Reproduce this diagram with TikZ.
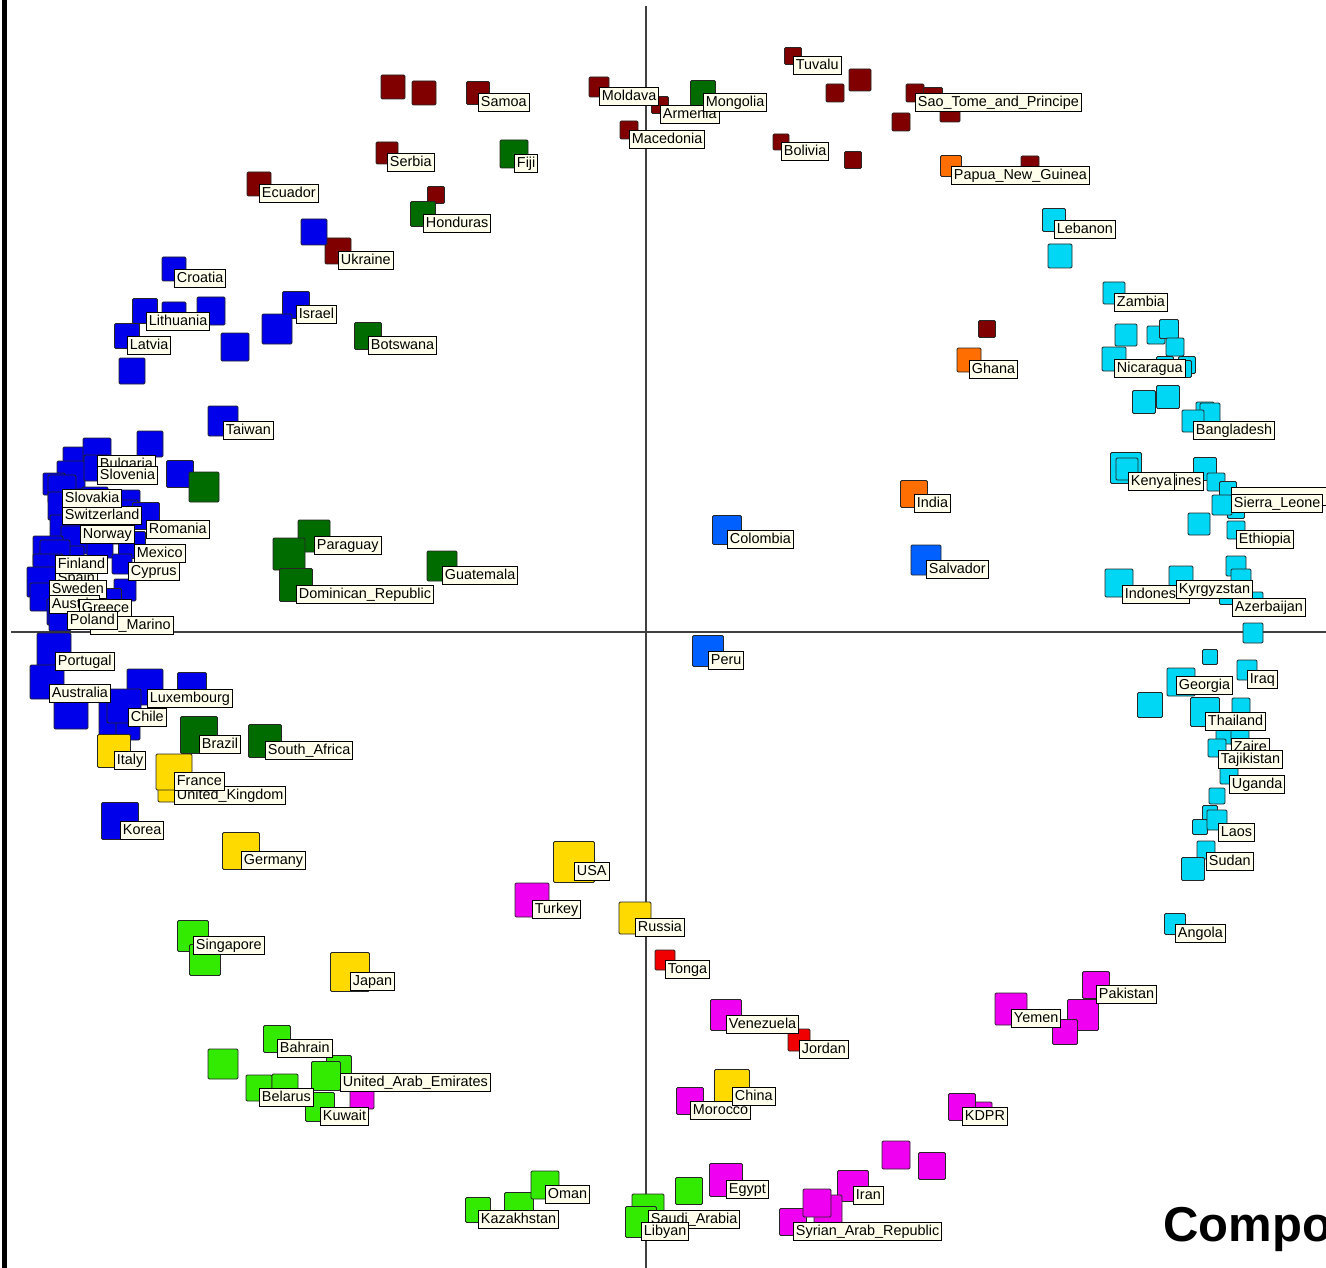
\documentclass[tikz,border=0pt]{standalone}
\usepackage{fontspec}
\setmainfont{Liberation Sans}
\usetikzlibrary{positioning}

\definecolor{cdred}{RGB}{128,0,0}
\definecolor{cdgreen}{RGB}{0,108,0}
\definecolor{cblue}{RGB}{0,0,235}
\definecolor{clblue}{RGB}{0,95,255}
\definecolor{ccyan}{RGB}{0,215,245}
\definecolor{corange}{RGB}{255,110,0}
\definecolor{cyellow}{RGB}{255,218,0}
\definecolor{clime}{RGB}{50,235,0}
\definecolor{cmagenta}{RGB}{240,0,240}
\definecolor{cred}{RGB}{240,0,0}
\definecolor{lblfill}{RGB}{255,255,236}

\begin{document}
\begin{tikzpicture}[x=1pt, y=-1pt,
    sq/.style={draw=black!85, line width=0.9pt, rounded corners=1.2pt, minimum size=#1, inner sep=0pt},
    lbl/.style={draw=black, line width=0.9pt, fill=lblfill, anchor=north west, inner xsep=2.5pt, inner ysep=1.6pt, text height=11pt, text depth=3.5pt, font=\fontsize{14.4}{16}\selectfont},
    axisline/.style={draw=black!75, line width=1.2pt}]

    \useasboundingbox (0,0) rectangle (1326,1268);
    \fill[white] (0,0) rectangle (1326,1268);
    \fill[black] (2,0) rectangle (7,1268);

    % Axes
    \coordinate (ytop) at (646,6);
    \coordinate (ybot) at (646,1268);
    \coordinate (xlft) at (11,632);
    \coordinate (xrgt) at (1326,632);
    \draw[axisline] (ytop) -- (ybot);
    \draw[axisline] (xlft) -- (xrgt);

    % Dark red points
    \node[sq=24, fill=cdred] (dr1) at (393,87) {};
    \node[sq=24, fill=cdred] (dr2) at (424,93) {};
    \node[sq=22, fill=cdred] (serbia) at (387,153) {};
    \node[sq=24, fill=cdred] (ecuador) at (259,184) {};
    \node[sq=17, fill=cdred] (dr3) at (436,195) {};
    \node[sq=26, fill=cdred] (ukraine) at (338,251) {};
    \node[sq=23, fill=cdred] (samoa) at (478,93) {};
    \node[sq=20, fill=cdred] (moldava) at (599,87) {};
    \node[sq=17, fill=cdred] (armenia) at (660,105) {};
    \node[sq=18, fill=cdred] (macedonia) at (629,130) {};
    \node[sq=17, fill=cdred] (tuvalu) at (793,56) {};
    \node[sq=22, fill=cdred] (dr4) at (860,80) {};
    \node[sq=18, fill=cdred] (dr5) at (835,93) {};
    \node[sq=16, fill=cdred] (bolivia) at (781,142) {};
    \node[sq=17, fill=cdred] (dr6) at (853,160) {};
    \node[sq=18, fill=cdred] (saotome) at (915,93) {};
    \node[sq=19, fill=cdred] (dr7) at (933,97) {};
    \node[sq=20, fill=cdred] (dr8) at (950,112) {};
    \node[sq=18, fill=cdred] (dr9) at (901,122) {};
    \node[sq=18, fill=cdred] (dr10) at (1030,165) {};
    \node[sq=17, fill=cdred] (dr11) at (987,329) {};

    % Dark green points
    \node[sq=25, fill=cdgreen] (honduras) at (423,214) {};
    \node[sq=28, fill=cdgreen] (fiji) at (514,154) {};
    \node[sq=25, fill=cdgreen] (mongolia) at (703,93) {};
    \node[sq=27, fill=cdgreen] (botswana) at (368,336) {};
    \node[sq=32, fill=cdgreen] (paraguay) at (314,536) {};
    \node[sq=32, fill=cdgreen] (gr1) at (289,554) {};
    \node[sq=33, fill=cdgreen] (dominican) at (296,585) {};
    \node[sq=30, fill=cdgreen] (guatemala) at (442,566) {};

    % Blue points, upper left
    \node[sq=26, fill=cblue] (bl1) at (314,232) {};
    \node[sq=24, fill=cblue] (croatia) at (174,269) {};
    \node[sq=24, fill=cblue] (bl2) at (174,314) {};
    \node[sq=28, fill=cblue] (bl3) at (211,311) {};
    \node[sq=25, fill=cblue] (lithuania) at (145,311) {};
    \node[sq=25, fill=cblue] (latvia) at (127,336) {};
    \node[sq=26, fill=cblue] (bl4) at (132,371) {};
    \node[sq=28, fill=cblue] (bl5) at (235,347) {};
    \node[sq=27, fill=cblue] (israel) at (296,305) {};
    \node[sq=30, fill=cblue] (bl6) at (277,329) {};
    \node[sq=30, fill=cblue] (taiwan) at (223,421) {};

    % Blue points, left cluster
    \node[sq=26, fill=cblue] (bl7) at (150,444) {};
    \node[sq=28, fill=cblue] (bl8) at (77,461) {};
    \node[sq=28, fill=cblue] (bulgaria) at (97,452) {};
    \node[sq=28, fill=cblue] (bl9) at (71,475) {};
    \node[sq=26, fill=cblue] (slovenia) at (97,468) {};
    \node[sq=27, fill=cblue] (bl10) at (180,474) {};
    \node[sq=30, fill=cdgreen] (gr2) at (204,487) {};
    \node[sq=22, fill=cblue] (bl11) at (54,484) {};
    \node[sq=26, fill=cblue] (bl12) at (95,500) {};
    \node[sq=20, fill=cblue] (bl13) at (130,500) {};
    \node[sq=28, fill=cblue] (slovakia) at (62,489) {};
    \node[sq=28, fill=cblue] (switzerland) at (62,506) {};
    \node[sq=26, fill=cblue] (bl14) at (125,513) {};
    \node[sq=27, fill=cblue] (romania) at (146,516) {};
    \node[sq=30, fill=cblue] (bl15) at (65,530) {};
    \node[sq=28, fill=cblue] (norway) at (80,525) {};
    \node[sq=24, fill=cblue] (bl16) at (113,532) {};
    \node[sq=28, fill=cblue] (bl17) at (75,540) {};
    \node[sq=26, fill=cblue] (bl18) at (100,545) {};
    \node[sq=27, fill=cblue] (mexico) at (132,545) {};
    \node[sq=30, fill=cblue] (bl19) at (48,551) {};
    \node[sq=20, fill=cblue] (cyprus) at (122,564) {};
    \node[sq=28, fill=cblue] (bl20) at (70,560) {};
    \node[sq=30, fill=cblue] (finland) at (55,555) {};
    \node[sq=30, fill=cblue] (spain) at (48,569) {};
    \node[sq=30, fill=cblue] (sweden) at (42,582) {};
    \node[sq=22, fill=cblue] (bl21) at (125,590) {};
    \node[sq=24, fill=cblue] (bl22) at (80,590) {};
    \node[sq=28, fill=cblue] (austria) at (44,597) {};
    \node[sq=23, fill=cblue] (greece) at (110,600) {};
    \node[sq=22, fill=cblue] (bl23) at (85,605) {};
    \node[sq=26, fill=cblue] (poland) at (60,612) {};
    \node[sq=24, fill=cblue] (sanmarino) at (90,616) {};
    \node[sq=22, fill=cblue] (bl24) at (60,620) {};

    % Blue points, lower left
    \node[sq=34, fill=cblue] (portugal) at (54,650) {};
    \node[sq=34, fill=cblue] (australia) at (47,682) {};
    \node[sq=34, fill=cblue] (bl25) at (71,712) {};
    \node[sq=29, fill=cblue] (bl26) at (192,687) {};
    \node[sq=36, fill=cblue] (luxembourg) at (145,687) {};
    \node[sq=36, fill=cblue] (bl27) at (117,718) {};
    \node[sq=24, fill=cblue] (bl28) at (128,728) {};
    \node[sq=34, fill=cblue] (chile) at (124,706) {};
    \node[sq=37, fill=cblue] (korea) at (120,821) {};

    % Green and yellow points, lower left
    \node[sq=37, fill=cdgreen] (brazil) at (199,735) {};
    \node[sq=33, fill=cdgreen] (southafrica) at (265,741) {};
    \node[sq=33, fill=cyellow] (italy) at (114,751) {};
    \node[sq=32, fill=cyellow] (uk) at (174,786) {};
    \node[sq=36, fill=cyellow] (france) at (174,772) {};
    \node[sq=37, fill=cyellow] (germany) at (241,851) {};
    \node[sq=39, fill=cyellow] (japan) at (350,972) {};
    \node[sq=41, fill=cyellow] (usa) at (574,862) {};
    \node[sq=32, fill=cyellow] (russia) at (635,918) {};

    % Lime points
    \node[sq=31, fill=clime] (singapore) at (193,936) {};
    \node[sq=31, fill=clime] (lm1) at (205,960) {};
    \node[sq=27, fill=clime] (bahrain) at (277,1039) {};
    \node[sq=30, fill=clime] (lm2) at (223,1064) {};
    \node[sq=25, fill=clime] (lm3) at (339,1068) {};
    \node[sq=24, fill=cmagenta] (mg1) at (362,1097) {};
    \node[sq=26, fill=clime] (belarus) at (259,1088) {};
    \node[sq=26, fill=clime] (lm4) at (285,1087) {};
    \node[sq=29, fill=clime] (kuwait) at (320,1107) {};
    \node[sq=29, fill=clime] (uae) at (326,1076) {};
    \node[sq=25, fill=clime] (kazakhstan) at (478,1210) {};
    \node[sq=29, fill=clime] (lm5) at (519,1207) {};
    \node[sq=28, fill=clime] (oman) at (545,1185) {};
    \node[sq=32, fill=clime] (saudi) at (648,1210) {};
    \node[sq=31, fill=clime] (libyan) at (641,1222) {};
    \node[sq=27, fill=clime] (lm6) at (689,1191) {};

    % Magenta and red points
    \node[sq=34, fill=cmagenta] (turkey) at (532,900) {};
    \node[sq=20, fill=cred] (tonga) at (665,960) {};
    \node[sq=31, fill=cmagenta] (venezuela) at (726,1015) {};
    \node[sq=22, fill=cred] (jordan) at (799,1040) {};
    \node[sq=27, fill=cmagenta] (morocco) at (690,1101) {};
    \node[sq=35, fill=cyellow] (china) at (732,1087) {};
    \node[sq=33, fill=cmagenta] (egypt) at (726,1180) {};
    \node[sq=31, fill=cmagenta] (iran) at (853,1186) {};
    \node[sq=28, fill=cmagenta] (mg2) at (828,1209) {};
    \node[sq=27, fill=cmagenta] (syrian) at (793,1222) {};
    \node[sq=28, fill=cmagenta] (mg3) at (817,1203) {};
    \node[sq=28, fill=cmagenta] (mg4) at (896,1155) {};
    \node[sq=27, fill=cmagenta] (mg5) at (932,1166) {};
    \node[sq=18, fill=cmagenta] (mg6) at (983,1111) {};
    \node[sq=27, fill=cmagenta] (kdpr) at (962,1107) {};
    \node[sq=32, fill=cmagenta] (yemen) at (1011,1009) {};
    \node[sq=27, fill=cmagenta] (pakistan) at (1096,985) {};
    \node[sq=31, fill=cmagenta] (mg7) at (1083,1015) {};
    \node[sq=25, fill=cmagenta] (mg8) at (1065,1032) {};

    % Light blue and orange points
    \node[sq=29, fill=clblue] (colombia) at (727,530) {};
    \node[sq=31, fill=clblue] (peru) at (708,651) {};
    \node[sq=30, fill=clblue] (salvador) at (926,560) {};
    \node[sq=21, fill=corange] (papua) at (951,166) {};
    \node[sq=24, fill=corange] (ghana) at (969,360) {};
    \node[sq=27, fill=corange] (india) at (914,494) {};

    % Cyan points
    \node[sq=23, fill=ccyan] (lebanon) at (1054,220) {};
    \node[sq=24, fill=ccyan] (cy1) at (1060,256) {};
    \node[sq=22, fill=ccyan] (zambia) at (1114,293) {};
    \node[sq=22, fill=ccyan] (cy2) at (1126,335) {};
    \node[sq=18, fill=ccyan] (cy3) at (1156,335) {};
    \node[sq=19, fill=ccyan] (cy4) at (1169,329) {};
    \node[sq=18, fill=ccyan] (cy5) at (1175,347) {};
    \node[sq=17, fill=ccyan] (cy6) at (1165,365) {};
    \node[sq=17, fill=ccyan] (cy7) at (1187,365) {};
    \node[sq=17, fill=ccyan] (cy8) at (1183,369) {};
    \node[sq=24, fill=ccyan] (nicaragua) at (1114,359) {};
    \node[sq=23, fill=ccyan] (cy9) at (1144,402) {};
    \node[sq=23, fill=ccyan] (cy10) at (1168,397) {};
    \node[sq=18, fill=ccyan] (cy11) at (1205,411) {};
    \node[sq=20, fill=ccyan] (cy12) at (1210,413) {};
    \node[sq=22, fill=ccyan] (bangladesh) at (1193,421) {};
    \node[sq=31, fill=ccyan] (kenya) at (1126,468) {};
    \node[sq=22, fill=ccyan] (kenya2) at (1127,469) {};
    \node[sq=23, fill=ccyan] (cy13) at (1205,469) {};
    \node[sq=18, fill=ccyan] (cy14) at (1216,482) {};
    \node[sq=17, fill=ccyan] (cy15) at (1228,490) {};
    \node[sq=17, fill=ccyan] (cy16) at (1236,510) {};
    \node[sq=20, fill=ccyan] (sierra) at (1222,505) {};
    \node[sq=22, fill=ccyan] (cy17) at (1199,524) {};
    \node[sq=18, fill=ccyan] (ethiopia) at (1236,530) {};
    \node[sq=28, fill=ccyan] (indonesia) at (1119,583) {};
    \node[sq=24, fill=ccyan] (kyrgyzstan) at (1181,578) {};
    \node[sq=20, fill=ccyan] (cy18) at (1236,566) {};
    \node[sq=20, fill=ccyan] (cy19) at (1241,579) {};
    \node[sq=17, fill=ccyan] (cy20) at (1228,596) {};
    \node[sq=20, fill=ccyan] (azerbaijan) at (1253,602) {};
    \node[sq=20, fill=ccyan] (cy21) at (1253,633) {};
    \node[sq=15, fill=ccyan] (cy22) at (1210,657) {};
    \node[sq=20, fill=ccyan] (iraq) at (1247,670) {};
    \node[sq=28, fill=ccyan] (georgia) at (1181,682) {};
    \node[sq=25, fill=ccyan] (cy23) at (1150,705) {};
    \node[sq=18, fill=ccyan] (cy24) at (1241,707) {};
    \node[sq=29, fill=ccyan] (thailand) at (1205,712) {};
    \node[sq=18, fill=ccyan] (cy25) at (1225,735) {};
    \node[sq=18, fill=ccyan] (zaire) at (1240,737) {};
    \node[sq=18, fill=ccyan] (tajikistan) at (1217,748) {};
    \node[sq=18, fill=ccyan] (uganda) at (1229,775) {};
    \node[sq=16, fill=ccyan] (cy26) at (1217,796) {};
    \node[sq=15, fill=ccyan] (cy27) at (1210,813) {};
    \node[sq=15, fill=ccyan] (cy28) at (1200,827) {};
    \node[sq=20, fill=ccyan] (laos) at (1217,820) {};
    \node[sq=18, fill=ccyan] (sudan) at (1206,850) {};
    \node[sq=23, fill=ccyan] (cy29) at (1193,869) {};
    \node[sq=21, fill=ccyan] (angola) at (1175,924) {};

    % Labels
    \node[lbl] (samoa-t) at (samoa.center) {Samoa};
    \node[lbl] (moldava-t) at (moldava.center) {Moldava};
    \node[lbl] (armenia-t) at (armenia.center) {Armenia};
    \node[lbl] (mongolia-t) at (mongolia.center) {Mongolia};
    \node[lbl] (macedonia-t) at (macedonia.center) {Macedonia};
    \node[lbl] (tuvalu-t) at (tuvalu.center) {Tuvalu};
    \node[lbl] (bolivia-t) at (bolivia.center) {Bolivia};
    \node[lbl] (saotome-t) at (saotome.center) {Sao\_Tome\_and\_Principe};
    \node[lbl] (papua-t) at (papua.center) {Papua\_New\_Guinea};
    \node[lbl] (lebanon-t) at (lebanon.center) {Lebanon};
    \node[lbl] (zambia-t) at (zambia.center) {Zambia};
    \node[lbl] (ghana-t) at (ghana.center) {Ghana};
    \node[lbl] (nicaragua-t) at (nicaragua.center) {Nicaragua};
    \node[lbl] (bangladesh-t) at (bangladesh.center) {Bangladesh};
    \node[lbl] (ines-t) at (1172,472) {ines};
    \node[lbl] (kenya-t) at (1128,472) {Kenya};
    \node[lbl, minimum width=100pt, minimum height=18pt] (hidden-t) at (1231,487) {};
    \node[lbl] (sierra-t) at (1231,494) {Sierra\_Leone};
    \node[lbl] (ethiopia-t) at (ethiopia.center) {Ethiopia};
    \node[lbl] (indonesia-t) at (1122,585) {Indonesia};
    \node[lbl] (kyrgyzstan-t) at (1176,580) {Kyrgyzstan};
    \node[lbl] (azerbaijan-t) at (1232,598) {Azerbaijan};
    \node[lbl] (india-t) at (india.center) {India};
    \node[lbl] (salvador-t) at (salvador.center) {Salvador};
    \node[lbl] (colombia-t) at (colombia.center) {Colombia};
    \node[lbl] (peru-t) at (peru.center) {Peru};
    \node[lbl] (georgia-t) at (1176,676) {Georgia};
    \node[lbl] (iraq-t) at (iraq.center) {Iraq};
    \node[lbl] (thailand-t) at (thailand.center) {Thailand};
    \node[lbl] (zaire-t) at (1231,738) {Zaire};
    \node[lbl] (tajikistan-t) at (1218,750) {Tajikistan};
    \node[lbl] (uganda-t) at (uganda.center) {Uganda};
    \node[lbl] (laos-t) at (1218,823) {Laos};
    \node[lbl] (sudan-t) at (1206,852) {Sudan};
    \node[lbl] (angola-t) at (angola.center) {Angola};
    \node[lbl] (pakistan-t) at (pakistan.center) {Pakistan};
    \node[lbl] (yemen-t) at (yemen.center) {Yemen};
    \node[lbl] (kdpr-t) at (kdpr.center) {KDPR};
    \node[lbl] (iran-t) at (iran.center) {Iran};
    \node[lbl] (syrian-t) at (syrian.center) {Syrian\_Arab\_Republic};
    \node[lbl] (egypt-t) at (egypt.center) {Egypt};
    \node[lbl] (saudi-t) at (saudi.center) {Saudi\_Arabia};
    \node[lbl] (libyan-t) at (libyan.center) {Libyan};
    \node[lbl] (morocco-t) at (morocco.center) {Morocco};
    \node[lbl] (china-t) at (china.center) {China};
    \node[lbl] (jordan-t) at (jordan.center) {Jordan};
    \node[lbl] (venezuela-t) at (venezuela.center) {Venezuela};
    \node[lbl] (tonga-t) at (tonga.center) {Tonga};
    \node[lbl] (russia-t) at (russia.center) {Russia};
    \node[lbl] (usa-t) at (usa.center) {USA};
    \node[lbl] (turkey-t) at (turkey.center) {Turkey};
    \node[lbl] (oman-t) at (oman.center) {Oman};
    \node[lbl] (kazakhstan-t) at (kazakhstan.center) {Kazakhstan};
    \node[lbl] (kuwait-t) at (kuwait.center) {Kuwait};
    \node[lbl] (belarus-t) at (belarus.center) {Belarus};
    \node[lbl] (uae-t) at (340,1073) {United\_Arab\_Emirates};
    \node[lbl] (bahrain-t) at (bahrain.center) {Bahrain};
    \node[lbl] (japan-t) at (japan.center) {Japan};
    \node[lbl] (singapore-t) at (singapore.center) {Singapore};
    \node[lbl] (germany-t) at (germany.center) {Germany};
    \node[lbl] (korea-t) at (korea.center) {Korea};
    \node[lbl] (uk-t) at (uk.center) {United\_Kingdom};
    \node[lbl] (france-t) at (france.center) {France};
    \node[lbl] (italy-t) at (italy.center) {Italy};
    \node[lbl] (brazil-t) at (brazil.center) {Brazil};
    \node[lbl] (southafrica-t) at (southafrica.center) {South\_Africa};
    \node[lbl] (chile-t) at (128,708) {Chile};
    \node[lbl] (luxembourg-t) at (147,689) {Luxembourg};
    \node[lbl] (australia-t) at (49,684) {Australia};
    \node[lbl] (portugal-t) at (55,652) {Portugal};
    \node[lbl] (spain-t) at (55,569) {Spain};
    \node[lbl] (finland-t) at (finland.center) {Finland};
    \node[lbl] (sweden-t) at (49,580) {Sweden};
    \node[lbl] (austria-t) at (49,595) {Austria};
    \node[lbl] (greece-t) at (79,599) {Greece};
    \node[lbl] (sanmarino-t) at (sanmarino.center) {San\_Marino};
    \node[lbl] (poland-t) at (67,611) {Poland};
    \node[lbl] (cyprus-t) at (128,562) {Cyprus};
    \node[lbl] (mexico-t) at (134,544) {Mexico};
    \node[lbl] (romania-t) at (146,520) {Romania};
    \node[lbl] (norway-t) at (norway.center) {Norway};
    \node[lbl] (switzerland-t) at (switzerland.center) {Switzerland};
    \node[lbl] (slovakia-t) at (slovakia.center) {Slovakia};
    \node[lbl] (bulgaria-t) at (97,455) {Bulgaria};
    \node[lbl] (slovenia-t) at (97,466) {Slovenia};
    \node[lbl] (taiwan-t) at (taiwan.center) {Taiwan};
    \node[lbl] (paraguay-t) at (paraguay.center) {Paraguay};
    \node[lbl] (dominican-t) at (dominican.center) {Dominican\_Republic};
    \node[lbl] (guatemala-t) at (guatemala.center) {Guatemala};
    \node[lbl] (latvia-t) at (latvia.center) {Latvia};
    \node[lbl] (lithuania-t) at (146,312) {Lithuania};
    \node[lbl] (croatia-t) at (croatia.center) {Croatia};
    \node[lbl] (israel-t) at (israel.center) {Israel};
    \node[lbl] (botswana-t) at (botswana.center) {Botswana};
    \node[lbl] (ukraine-t) at (ukraine.center) {Ukraine};
    \node[lbl] (honduras-t) at (honduras.center) {Honduras};
    \node[lbl] (ecuador-t) at (ecuador.center) {Ecuador};
    \node[lbl] (serbia-t) at (serbia.center) {Serbia};
    \node[lbl] (fiji-t) at (fiji.center) {Fiji};

    % Title fragment
    \node[anchor=base west, inner sep=0pt, font=\fontsize{49}{49}\selectfont\bfseries] (compo) at (1163,1241) {Compo};

\end{tikzpicture}
\end{document}
